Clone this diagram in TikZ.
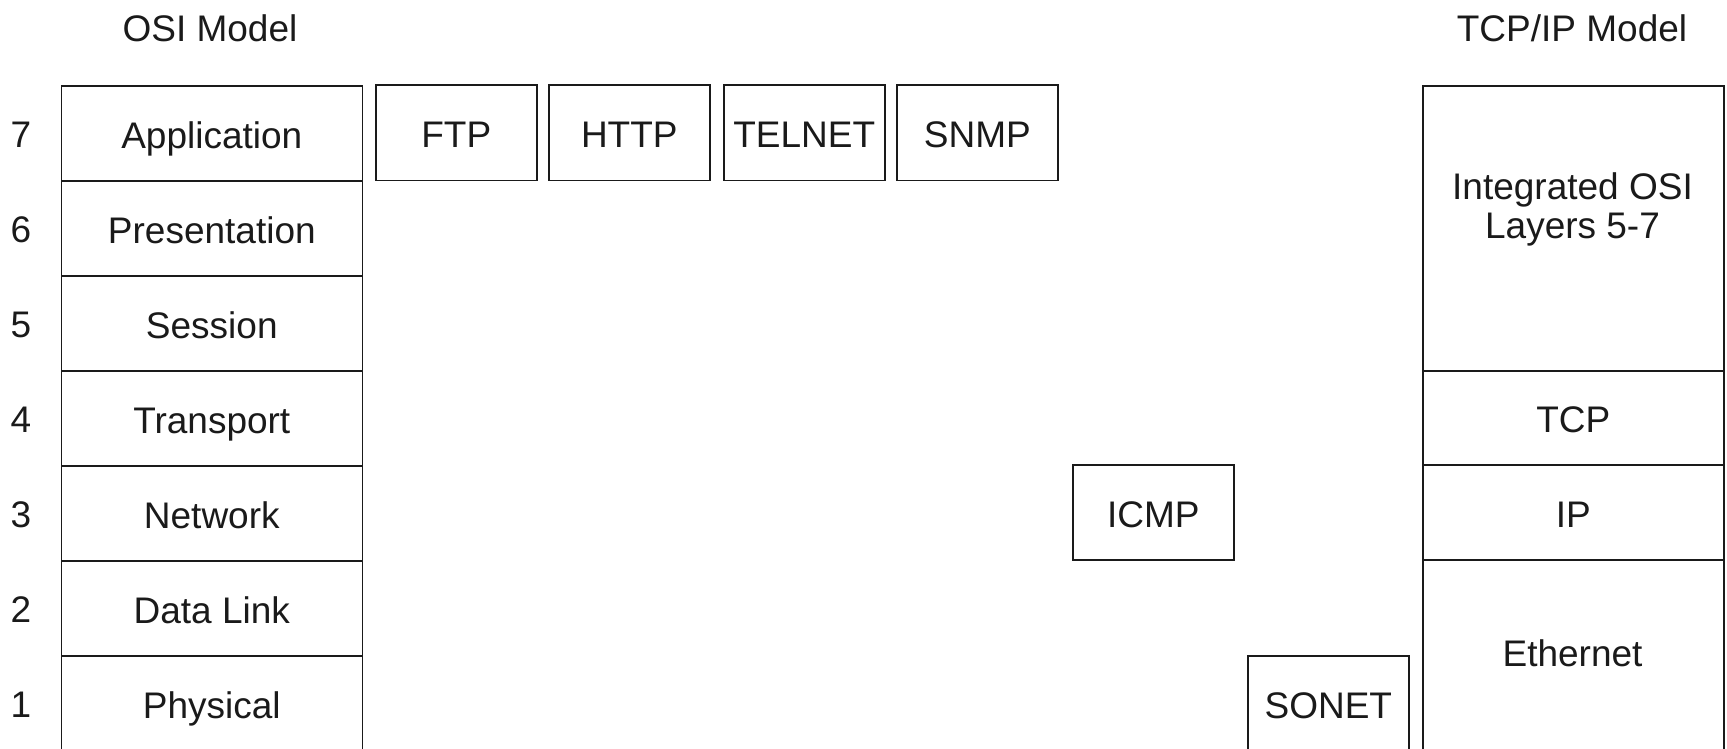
\documentclass[tikz,border=0pt]{standalone}
\usepackage{fontspec}
\setmainfont{Liberation Sans}
\definecolor{ink}{HTML}{1A1A1A}
\begin{document}
\begin{tikzpicture}[x=1pt,y=-1pt,
  lay/.style={draw=ink,line width=1.6pt,rectangle,inner sep=0pt,anchor=north west,
    minimum width=301pt,minimum height=95pt,text height=30pt,text depth=0pt,
    font=\fontsize{37}{40}\selectfont,text=ink},
  proto/.style={lay,minimum width=161pt},
  txt/.style={inner sep=0pt,anchor=base,font=\fontsize{37}{40}\selectfont,text=ink}]
\useasboundingbox (0,0) rectangle (1727,749);
\clip (0,0) rectangle (1727,749);
% titles
\node[txt] (osititle) at (210,42) {OSI Model};
\node[txt] (tcptitle) at (1572,42) {TCP/IP Model};
% OSI column
\node[lay] (app) at (60.5,85) {Application};
\node[lay] (pres) at (60.5,180) {Presentation};
\node[lay] (sess) at (60.5,275) {Session};
\node[lay] (trans) at (60.5,370) {Transport};
\node[lay] (net) at (60.5,465) {Network};
\node[lay] (dl) at (60.5,560) {Data Link};
\node[lay] (phys) at (60.5,655) {Physical};
% layer numbers
\node[txt] (n7) at (21,147.5) {7};
\node[txt] (n6) at (21,242.5) {6};
\node[txt] (n5) at (21,337.5) {5};
\node[txt] (n4) at (21,432.5) {4};
\node[txt] (n3) at (21,527.5) {3};
\node[txt] (n2) at (21,622.5) {2};
\node[txt] (n1) at (21,717.5) {1};
% protocols
\node[proto] (ftp) at (375,84.5) {FTP};
\node[proto] (http) at (548,84.5) {HTTP};
\node[proto] (telnet) at (723,84.5) {TELNET};
\node[proto] (snmp) at (896,84.5) {SNMP};
\node[proto] (icmp) at (1072,464) {ICMP};
\node[proto] (sonet) at (1247,655) {SONET};
% TCP/IP column
\node[lay,minimum height=285pt] (integ) at (1422,85) {};
\node[txt] (integ1) at (1572.5,199) {Integrated OSI};
\node[txt] (integ2) at (1572.5,238) {Layers 5-7};
\node[lay,minimum height=94pt] (tcp) at (1422,370) {TCP};
\node[lay] (ip) at (1422,464) {IP};
\node[lay,minimum height=195pt,text height=0pt,text depth=0pt] (eth) at (1422,559) {};
\node[txt] (ethtxt) at (1572.5,666) {Ethernet};
\end{tikzpicture}
\end{document}
